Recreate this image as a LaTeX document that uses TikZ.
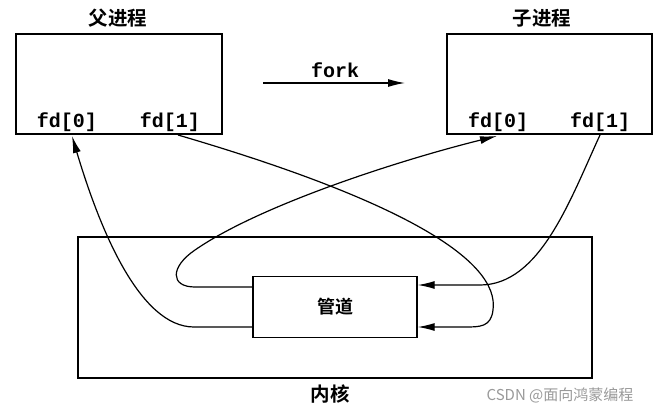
\documentclass[tikz,border=0pt]{standalone}
\usepackage{fontspec}
\setmonofont{Liberation Mono}
\newfontfamily\cjk{Noto Sans CJK SC}
\newfontfamily\cjkb{Noto Sans CJK SC Bold}
\usetikzlibrary{arrows.meta}
\begin{document}
\begin{tikzpicture}[x=1pt,y=-1pt,
  box/.style={draw,line width=1.4pt},
  title/.style={font=\cjkb\fontsize{19.5}{19.5}\selectfont,inner sep=0pt},
  fdlab/.style={font=\ttfamily\bfseries\fontsize{20}{20}\selectfont,inner sep=0pt},
  conn/.style={line width=1.2pt,-{Latex[length=17pt,width=8pt]}},
  plain/.style={line width=1.2pt}]
\useasboundingbox (0,0) rectangle (658,412);
% process boxes
\draw[box] (16,34) rectangle (222,134);
\draw[box] (447,34) rectangle (652,134);
\node[title] (ptitle) at (118,18) {父进程};
\node[title] (ctitle) at (542,18) {子进程};
\node[fdlab] (p0) at (67,122) {fd[0]};
\node[fdlab] (p1) at (170,122) {fd[1]};
\node[fdlab] (c0) at (498,122) {fd[0]};
\node[fdlab] (c1) at (600,122) {fd[1]};
% fork
\node[fdlab] (fork) at (335,70) {fork};
\coordinate (fs) at (263,83);
\coordinate (fe) at (405,83);
\draw[conn] (fs) -- (fe);
% kernel
\node[box,minimum width=514pt,minimum height=141pt,inner sep=0pt] (kernel) at (335,307.5) {};
\node[title] (ktitle) at (330,394) {内核};
\node[box,minimum width=164pt,minimum height=61pt,inner sep=0pt,font=\cjkb\fontsize{18}{18}\selectfont] (pipe) at (335,307) {管道};
% end points
\coordinate (p0e) at (72,136);
\coordinate (p1s) at (178,135);
\coordinate (c0e) at (497,136);
\coordinate (c1s) at (600,135);
\coordinate (pl1) at (pipe.west |- 0,287);
\coordinate (pl2) at (pipe.west |- 0,327);
\coordinate (pr1) at (pipe.east |- 0,285);
\coordinate (pr2) at (pipe.east |- 0,327);
% pipe -> parent fd[0]
\draw[conn] (pl2) -- (194,327) .. controls (140,327) and (100,230) .. (p0e);
% parent fd[1] -> pipe
\draw[conn] (p1s) .. controls (400,200) and (500,260) .. (493,310)
  .. controls (491,327) and (480,327) .. (465,327) -- (pr2);
% child fd[1] -> pipe
\draw[conn] (c1s) .. controls (570,200) and (540,285) .. (480,285) -- (pr1);
% pipe -> child fd[0]
\draw[conn] (pl1) -- (195,287) .. controls (170,287) and (170,267) .. (195,250)
  .. controls (260,205) and (400,160) .. (c0e);
% watermark
\node[font=\cjk\fontsize{15}{15}\selectfont,text=black!40,inner sep=0pt] (wm) at (560,395) {CSDN @面向鸿蒙编程};
\end{tikzpicture}
\end{document}
